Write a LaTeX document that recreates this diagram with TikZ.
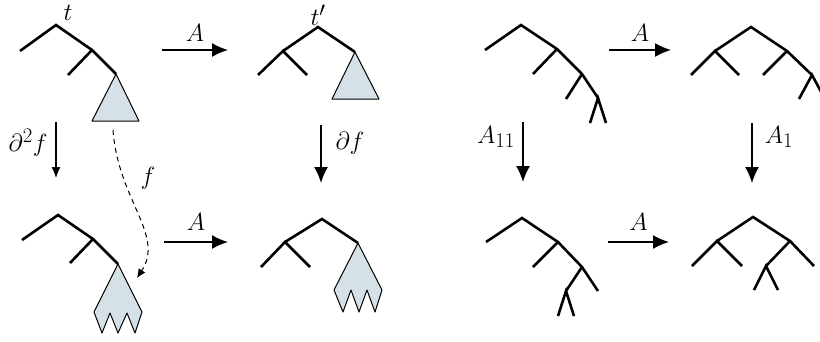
\documentclass[tikz,border=0pt]{standalone}
\usetikzlibrary{arrows.meta}
\definecolor{subtree}{RGB}{214,224,231}
\begin{document}
\begin{tikzpicture}[x=1pt,y=-1pt,
  edge/.style={line width=2.6pt},
  blob/.style={fill=subtree,draw=black,line width=1pt,line join=round},
  bigarrow/.style={line width=1.5pt,-{Latex[length=16pt,width=14pt]}},
  smallarrow/.style={line width=1.1pt,-{Latex[length=11pt,width=9pt]}},
  dasharrow/.style={line width=1pt,dash pattern=on 5pt off 4pt,-{Latex[length=9pt,width=8pt]}},
  lbl/.style={font=\Huge,inner sep=0pt}]
\useasboundingbox[fill=white] (0,0) rectangle (820,341);

% ---- top-left tree t
\draw[blob] (116,74) -- (92,121) -- (139,121) -- cycle;
\draw[edge] (20,51) -- (56,25) -- (92,50) -- (116,74);
\draw[edge] (92,50) -- (68,75);
\node[lbl] (t) at (68,13) {$t$};

% ---- top-middle tree t'
\draw[blob] (355,52) -- (332,99) -- (379,99) -- cycle;
\draw[edge] (258,75) -- (283,51) -- (307,75);
\draw[edge] (283,51) -- (318,27) -- (355,52);
\node[lbl] (tp) at (318,15) {$t'$};

% ---- bottom-left tree
\draw[blob] (118,264) -- (94,312) -- (102,333) -- (110,313) -- (118,333) -- (127,313) -- (135,333) -- (142,312) -- cycle;
\draw[edge] (22,240) -- (58,215) -- (93,239) -- (118,264);
\draw[edge] (93,239) -- (70,263);

% ---- bottom-middle tree
\draw[blob] (358,243) -- (334,290) -- (343,312) -- (351,290) -- (359,312) -- (367,290) -- (375,312) -- (382,290) -- cycle;
\draw[edge] (261,267) -- (285,242) -- (310,267);
\draw[edge] (285,242) -- (322,219) -- (358,243);

% ---- top-right-left tree
\draw[edge] (485,50) -- (521,25) -- (557,49) -- (582,74) -- (598,98);
\draw[edge] (557,49) -- (533,74);
\draw[edge] (582,74) -- (566,99);
\draw[edge] (590,123) -- (598,98) -- (606,123);

% ---- top-right-right tree
\draw[edge] (691,75) -- (715,51) -- (739,75);
\draw[edge] (715,51) -- (751,27) -- (787,51) -- (812,75);
\draw[edge] (787,51) -- (763,75);
\draw[edge] (799,99) -- (812,75) -- (825,99);

% ---- bottom-right-left tree
\draw[edge] (486,242) -- (522,218) -- (558,242) -- (582,267) -- (598,291);
\draw[edge] (558,242) -- (533,267);
\draw[edge] (582,267) -- (566,291);
\draw[edge] (558,316) -- (566,291) -- (574,316);

% ---- bottom-right-right tree
\draw[edge] (692,266) -- (717,241) -- (742,266);
\draw[edge] (717,241) -- (753,217) -- (790,241) -- (814,266);
\draw[edge] (790,241) -- (766,266);
\draw[edge] (754,290) -- (766,266) -- (778,290);

% ---- arrow end points
\coordinate (h1s) at (162,50);  \coordinate (h1e) at (228,50);
\coordinate (h2s) at (609,50);  \coordinate (h2e) at (671,50);
\coordinate (h3s) at (164,242); \coordinate (h3e) at (228,242);
\coordinate (h4s) at (608,242); \coordinate (h4e) at (669,242);
\coordinate (v1s) at (56,122);  \coordinate (v1e) at (56,178);
\coordinate (v2s) at (321,125); \coordinate (v2e) at (321,183);
\coordinate (v3s) at (523,122); \coordinate (v3e) at (523,182);
\coordinate (v4s) at (752,123); \coordinate (v4e) at (752,183);
\coordinate (ds) at (113,130);  \coordinate (de) at (137,278);

% ---- horizontal arrows
\draw[bigarrow] (h1s) -- (h1e) node[lbl,midway,yshift=17pt] (la1) {$A$};
\draw[bigarrow] (h2s) -- (h2e) node[lbl,midway,yshift=17pt] (la2) {$A$};
\draw[bigarrow] (h3s) -- (h3e) node[lbl,midway,yshift=20pt] (la3) {$A$};
\draw[bigarrow] (h4s) -- (h4e) node[lbl,midway,yshift=20pt] (la4) {$A$};

% ---- vertical arrows
\draw[smallarrow] (v1s) -- (v1e);
\node[lbl] (l1) at (28,143) {$\partial^2 f$};
\draw[bigarrow] (v2s) -- (v2e);
\node[lbl] (l2) at (350,143) {$\partial f$};
\draw[bigarrow] (v3s) -- (v3e);
\node[lbl] (l3) at (496,137) {$A_{11}$};
\draw[bigarrow] (v4s) -- (v4e);
\node[lbl] (l4) at (779,137) {$A_1$};

% ---- dashed arrow f
\draw[dasharrow] (ds) .. controls (118,200) and (165,235) .. (de);
\node[lbl] (lf) at (148,178) {$f$};
\end{tikzpicture}
\end{document}
